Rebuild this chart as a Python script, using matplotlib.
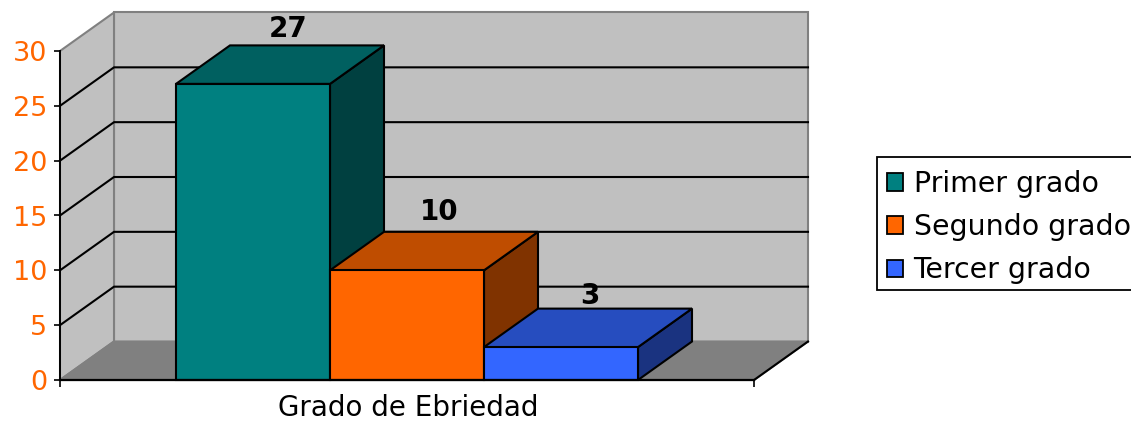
import matplotlib
matplotlib.use('Agg')
import matplotlib.pyplot as plt
from matplotlib.patches import Patch, Polygon, Rectangle

series = ['Primer grado', 'Segundo grado', 'Tercer grado']
values = [27, 10, 3]
yticks = [0, 5, 10, 15, 20, 25, 30]
xlabel = 'Grado de Ebriedad'

front = ['#008080', '#FF6600', '#3366FF']
top = ['#006060', '#BF4D00', '#264DBF']
side = ['#004040', '#803300', '#1A3380']
label_nudge = [(8, 2), (5, 6), (2, -1)]

W, H = 1131, 423
fig = plt.figure(figsize=(W / 100, H / 100), dpi=100)
ax = fig.add_axes([60 / W, 1 - 380 / H, 694 / W, 329 / H])
ax.set_xlim(0, 1)
ax.set_ylim(0, 30)
ax.patch.set_visible(False)

# oblique depth of the box, in data units
dx = 54 / 694
dy = 38.5 / (329 / 30)
bar_w = 154 / 694
gap = (1 - bar_w * len(values)) / 2


def poly(pts, color, edge, lw=1.5, z=1):
	ax.add_patch(Polygon(pts, closed=True, facecolor=color, edgecolor=edge, linewidth=lw,
		joinstyle='miter', clip_on=False, zorder=z))


# walls and floor
poly([(dx, dy), (1 + dx, dy), (1 + dx, 30 + dy), (dx, 30 + dy)], '#C0C0C0', '#808080', 1.5)
poly([(0, 0), (dx, dy), (dx, 30 + dy), (0, 30)], '#C0C0C0', '#808080', 1.5)
poly([(0, 0), (1, 0), (1 + dx, dy), (dx, dy)], '#808080', '#808080', 1.5)
ax.plot([1, 1 + dx], [0, dy], color='black', lw=1.5, clip_on=False, zorder=1.5)

for v in yticks[1:-1]:
	ax.plot([0, dx, 1 + dx], [v, v + dy, v + dy], color='black', lw=1.5, clip_on=False, zorder=1.5)

# bars, left to right so each one covers the previous side
for i, v in enumerate(values):
	x0 = gap + i * bar_w
	x1 = x0 + bar_w
	z = 2 + i
	poly([(x1, 0), (x1 + dx, dy), (x1 + dx, v + dy), (x1, v)], side[i], 'black', z=z)
	poly([(x0, v), (x1, v), (x1 + dx, v + dy), (x0 + dx, v + dy)], top[i], 'black', z=z)
	poly([(x0, 0), (x1, 0), (x1, v), (x0, v)], front[i], 'black', z=z)
	ax.annotate(str(v), (x0 + bar_w / 2 + dx / 2, v + dy), xytext=label_nudge[i], textcoords='offset pixels',
		ha='center', va='bottom', fontsize=20, fontweight='bold', color='black', zorder=10,
		annotation_clip=False)

ax.set_yticks(yticks)
ax.set_xticks([0, 1])
ax.set_xticklabels([])
ax.tick_params(axis='y', labelsize=19.5, labelcolor='#FF6600', length=4.3, width=1.2, color='black', pad=5)
ax.tick_params(axis='x', length=5, width=1.2, color='black')
ax.spines['top'].set_visible(False)
ax.spines['right'].set_visible(False)
ax.spines['left'].set_linewidth(1.4)
ax.spines['bottom'].set_linewidth(1.6)
for s in ax.spines.values():
	s.set_zorder(20)

fig.text(408 / W, 1 - 408 / H, xlabel, ha='center', va='center', fontsize=20, color='black')

# legend frame runs off the right edge, so it is drawn apart from the entries
fig.add_artist(Rectangle((877 / W, 1 - 290 / H), 260 / W, 133 / H, transform=fig.transFigure,
	facecolor='white', edgecolor='black', linewidth=1.3))
handles = [Patch(facecolor=c, edgecolor='black', linewidth=1.3) for c in front]
fig.legend(handles, series, loc='upper left', bbox_to_anchor=(877 / W, 1 - 160 / H), borderaxespad=0,
	fontsize=20.4, frameon=False, handlelength=0.57, handleheight=0.57, handletextpad=0.36,
	labelspacing=0.53, borderpad=0.36, labelcolor='black')

fig.savefig('out.png', dpi=100)
